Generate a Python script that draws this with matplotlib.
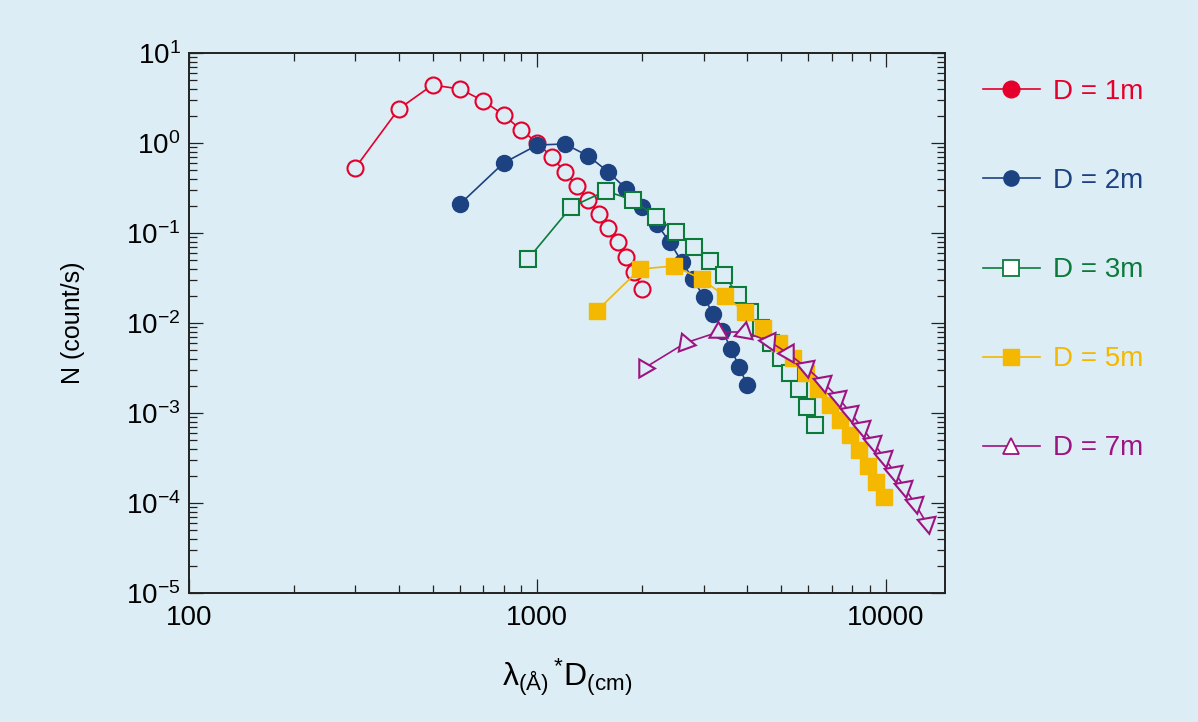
import numpy as np
import matplotlib
matplotlib.use("Agg")
import matplotlib.pyplot as plt
from matplotlib.lines import Line2D
from matplotlib.ticker import FixedLocator, LogLocator, FuncFormatter, NullFormatter

# counts vs lambda*D, one series per detector distance
x_1m = [300, 400, 500, 600, 700, 800, 900, 1000, 1100, 1200, 1300, 1400, 1500, 1600, 1700, 1800, 1900, 2000]
y_1m = [0.528, 2.39, 4.41, 3.98, 2.93, 2.05, 1.39, 1.0, 0.699, 0.476, 0.333, 0.233, 0.163, 0.114, 0.0794, 0.0541, 0.0369, 0.0239]

x_2m = [600, 800, 1000, 1200, 1400, 1600, 1800, 2000, 2200, 2400, 2600, 2800, 3000, 3200, 3400, 3600, 3800, 4000]
y_2m = [0.210, 0.600, 0.950, 0.975, 0.717, 0.476, 0.308, 0.194, 0.126, 0.0794, 0.0476, 0.0308, 0.0195, 0.0126, 0.00815, 0.00514, 0.00324, 0.00205]

x_3m = [940, 1250, 1570, 1880, 2190, 2500, 2820, 3130, 3440, 3760, 4070, 4380, 4700, 5010, 5320, 5630, 5950, 6260]
y_3m = [0.0514, 0.1945, 0.293, 0.233, 0.151, 0.1026, 0.0699, 0.0489, 0.0341, 0.0205, 0.01325, 0.0088, 0.0060, 0.00408, 0.00278, 0.00185, 0.00117, 0.000736]

x_5m = [1480, 1970, 2470, 2960, 3450, 3940, 4440, 4930, 5420, 5920, 6410, 6900, 7400, 7890, 8380, 8870, 9370, 9860]
y_5m = [0.0136, 0.0398, 0.0430, 0.0308, 0.0200, 0.01325, 0.0088, 0.0060, 0.00408, 0.00278, 0.00185, 0.00123, 0.000836, 0.00057, 0.000388, 0.000258, 0.000171, 0.000117]

x_7m = [2030, 2660, 3310, 3930, 4610, 5230, 5890, 6590, 7280, 7880, 8530, 9180, 9870, 10600, 11300, 12100, 13100]
y_7m = [0.00316, 0.0060, 0.00794, 0.00794, 0.00631, 0.00464, 0.00324, 0.00221, 0.00151, 0.00103, 0.000699, 0.000476, 0.000324, 0.000221, 0.000151, 0.0001, 0.00006]
# the triangles in the original are turned along the curve
rot_7m = [-90, -100, 0, -10, 85, 90, 190, 190, 190, 190, 190, 190, 190, 190, 190, 190, 190]

labels = ["D = 1m", "D = 2m", "D = 3m", "D = 5m", "D = 7m"]

bg = "#dcedf5"
red = "#e4002b"
blue = "#1c4282"
green = "#0c7a3a"
yellow = "#f5b800"
purple = "#9e1381"

plt.rcParams["font.family"] = ["Liberation Sans", "DejaVu Sans"]
plt.rcParams["mathtext.fontset"] = "custom"
plt.rcParams["mathtext.rm"] = "Liberation Sans"
plt.rcParams["mathtext.it"] = "Liberation Sans"
plt.rcParams["mathtext.default"] = "regular"

fig = plt.figure(figsize=(11.98, 7.22), dpi=100, facecolor=bg)
ax = fig.add_axes([0.1578, 0.1787, 0.631, 0.7479])
ax.set_facecolor(bg)
ax.set_xscale("log")
ax.set_yscale("log")

ax.plot(x_1m, y_1m, color=red, lw=1.2, marker="o", ms=11.5, mfc=bg, mec=red, mew=1.5, zorder=2)
ax.plot(x_2m, y_2m, color=blue, lw=1.2, marker="o", ms=11.5, mfc=blue, mec=blue, zorder=3)
ax.plot(x_3m, y_3m, color=green, lw=1.2, marker="s", ms=11.5, mfc=bg, mec=green, mew=1.5, zorder=4)
ax.plot(x_5m, y_5m, color=yellow, lw=1.2, marker="s", ms=12, mfc=yellow, mec=yellow, zorder=5)
ax.plot(x_7m, y_7m, color=purple, lw=1.2, zorder=6)
for xv, yv, a in zip(x_7m, y_7m, rot_7m):
    ax.plot(xv, yv, marker=(3, 0, a), ms=15, mfc=bg, mec=purple, mew=1.5, ls="none", zorder=6)

ax.set_xlim(100, 14800)
ax.set_ylim(1e-5, 10)

ax.xaxis.set_major_locator(FixedLocator([100, 1000, 10000]))
ax.xaxis.set_major_formatter(FuncFormatter(lambda v, p: "%d" % round(v)))
ax.xaxis.set_minor_locator(LogLocator(base=10, subs=np.arange(2, 10)))
ax.xaxis.set_minor_formatter(NullFormatter())
ax.yaxis.set_major_locator(LogLocator(base=10, numticks=20))
ax.yaxis.set_major_formatter(FuncFormatter(lambda v, p: r"10$^{%d}$" % round(np.log10(v))))
ax.yaxis.set_minor_locator(LogLocator(base=10, subs=np.arange(2, 10), numticks=20))
ax.yaxis.set_minor_formatter(NullFormatter())

ax.tick_params(which="both", direction="in", top=True, right=True, width=0.9, colors="#222222")
ax.tick_params(which="major", length=10, labelsize=20, labelcolor="black")
ax.tick_params(axis="y", which="major", pad=6)
ax.tick_params(axis="x", which="major", pad=9)
ax.tick_params(which="minor", length=6)
for s in ax.spines.values():
    s.set_linewidth(1.4)
    s.set_color("#222222")

ax.set_ylabel("N (count/s)", fontsize=18)
ax.yaxis.set_label_coords(-0.138, 0.5)
ax.set_xlabel(r"$\lambda_{(\AA)}\,{}^{*}D_{(cm)}$", fontsize=23)
ax.xaxis.set_label_coords(0.5, -0.118)

handles = [
    Line2D([], [], color=red, lw=1.2, marker="o", ms=12, mfc=red, mec=red),
    Line2D([], [], color=blue, lw=1.2, marker="o", ms=11, mfc=blue, mec=blue),
    Line2D([], [], color=green, lw=1.2, marker="s", ms=11, mfc="white", mec=green, mew=1.3),
    Line2D([], [], color=yellow, lw=1.2, marker="s", ms=11.5, mfc=yellow, mec=yellow),
    Line2D([], [], color=purple, lw=1.2, marker="^", ms=12, mfc="white", mec=purple, mew=1.3),
]
fig.legend(handles, labels, loc="center left", bbox_to_anchor=(0.8205, 0.6257),
           frameon=False, fontsize=20, handlelength=2.05, handletextpad=0.47,
           labelspacing=2.27, borderpad=0, borderaxespad=0,
           labelcolor=[red, blue, green, yellow, purple])

fig.savefig("out.png", dpi=100, facecolor=bg)
